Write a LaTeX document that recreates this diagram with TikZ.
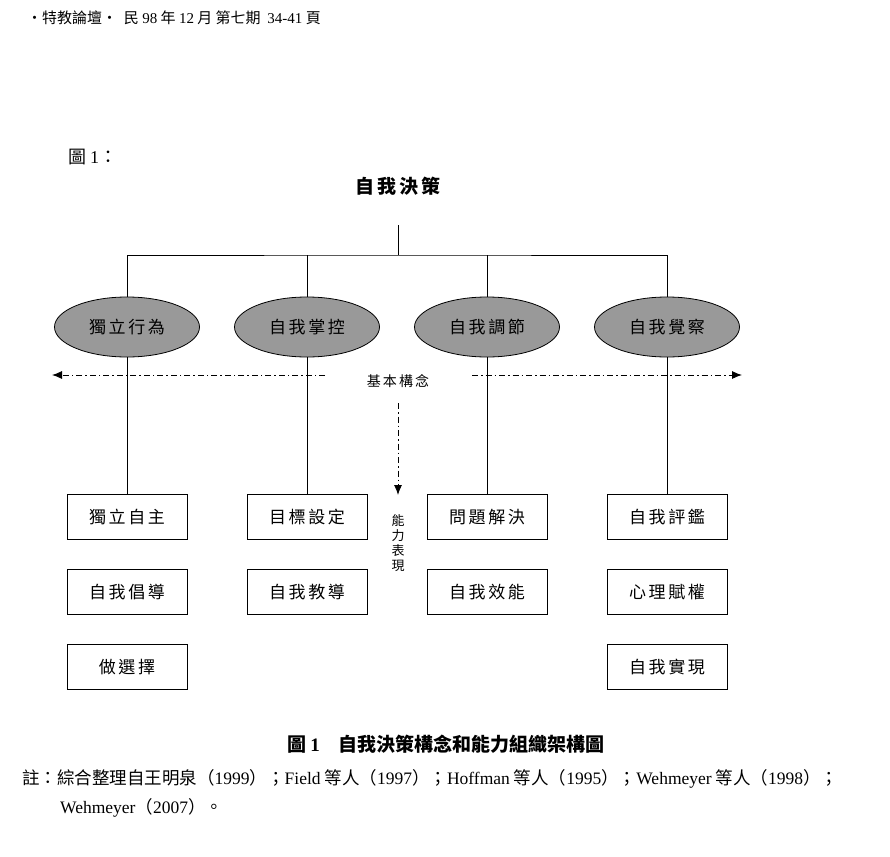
\documentclass[tikz,border=0pt]{standalone}
\usepackage{fontspec}
\setmainfont{Liberation Serif}
\newfontfamily\cjk{Noto Sans CJK TC}
\newfontfamily\cjksp{Noto Sans CJK TC}[LetterSpace=15]
\newcommand\lt[1]{{\rmfamily #1}}
\usetikzlibrary{arrows.meta,shapes.geometric}

\begin{document}
\begin{tikzpicture}[x=1pt,y=-1pt,
    concept/.style={ellipse, draw, thick, fill=black!40, minimum width=145pt, minimum height=60pt, inner sep=0pt, font=\cjksp\fontsize{17}{19}\selectfont},
    ability/.style={rectangle, draw, thick, minimum width=120pt, minimum height=45pt, inner sep=0pt, font=\cjksp\fontsize{17}{19}\selectfont},
    dashdot/.style={line width=0.9pt, dash pattern=on 6pt off 3pt on 1.5pt off 3pt, -{Latex[length=10pt,width=8pt]}}]
    \useasboundingbox (0,0) rectangle (890,856);

    % Page header and figure label
    \node[anchor=west, inner sep=0pt, font=\cjk\fontsize{15}{17}\selectfont] (header) at (27,18)
        {・特教論壇・\ \ 民 \lt{98} 年 \lt{12} 月\ 第七期\ \ \lt{34-41} 頁};
    \node[anchor=west, inner sep=0pt, font=\cjk\fontsize{18}{20}\selectfont] (figlabel) at (68,157) {圖 \lt{1}：};

    % Root
    \node[font=\cjksp\bfseries\fontsize{19}{21}\selectfont] (root) at (398,186) {自我決策};
    \coordinate (stem) at (398,225);
    \coordinate (bar) at (398,255);

    % Basic concepts
    \node[concept] (indep) at (127,327) {獨立行為};
    \node[concept] (control) at (307,327) {自我掌控};
    \node[concept] (regul) at (487,327) {自我調節};
    \node[concept] (aware) at (667,327) {自我覺察};

    % Abilities
    \node[ability] (auton) at (127,517) {獨立自主};
    \node[ability] (advoc) at (127,592) {自我倡導};
    \node[ability] (choice) at (127,667) {做選擇};
    \node[ability] (goal) at (307,517) {目標設定};
    \node[ability] (instr) at (307,592) {自我教導};
    \node[ability] (solve) at (487,517) {問題解決};
    \node[ability] (effic) at (487,592) {自我效能};
    \node[ability] (evalu) at (667,517) {自我評鑑};
    \node[ability] (empow) at (667,592) {心理賦權};
    \node[ability] (actual) at (667,667) {自我實現};

    % Tree lines
    \draw[thick] (stem) -- (bar);
    \draw[thick] (indep.north) |- (bar) -| (aware.north);
    \draw[thick] (control.north) -- (control.north |- bar);
    \draw[thick] (regul.north) -- (regul.north |- bar);
    \draw[thick] (indep.south) -- (auton.north);
    \draw[thick] (control.south) -- (goal.north);
    \draw[thick] (regul.south) -- (solve.north);
    \draw[thick] (aware.south) -- (evalu.north);

    % Axis labels and arrows
    \node[font=\cjksp\fontsize{14}{16}\selectfont] (basic) at (398,381) {基本構念};
    \node[font=\cjk\fontsize{13}{15}\selectfont, align=center] (perform) at (398,543) {能\\力\\表\\現};
    \coordinate (lstart) at (325,375);
    \coordinate (lend) at (52,375);
    \coordinate (rstart) at (472,375);
    \coordinate (rend) at (742,375);
    \coordinate (dstart) at (398,403);
    \coordinate (dend) at (398,495);
    \draw[dashdot] (lstart) -- (lend);
    \draw[dashdot] (rstart) -- (rend);
    \draw[dashdot] (dstart) -- (dend);

    % Caption and note
    \node[font=\cjk\bfseries\fontsize{19}{21}\selectfont] (caption) at (446,744)
        {圖 \lt{1}\quad 自我決策構念和能力組織架構圖};
    \node[anchor=west, inner sep=0pt, font=\cjk\fontsize{17.5}{20}\selectfont] (note1) at (22,779)
        {註：綜合整理自王明泉（\lt{1999}）；\lt{Field} 等人（\lt{1997}）；\lt{Hoffman}\ 等人（\lt{1995}）；\lt{Wehmeyer} 等人（\lt{1998}）；};
    \node[anchor=west, inner sep=0pt, font=\cjk\fontsize{17.5}{20}\selectfont] (note2) at (60,808)
        {\lt{Wehmeyer}（\lt{2007}）。};
\end{tikzpicture}
\end{document}
